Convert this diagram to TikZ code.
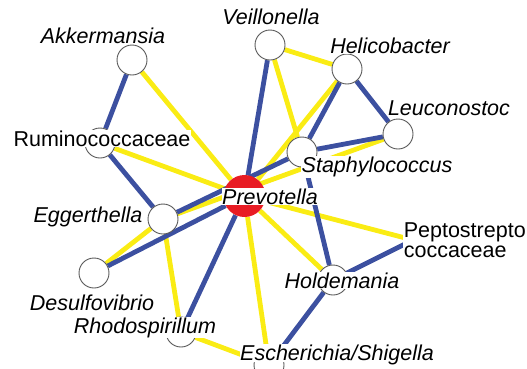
\documentclass[tikz,border=0pt]{standalone}
\usepackage{fontspec}
\setmainfont{Liberation Sans}
\pgfdeclarelayer{edges}
\pgfsetlayers{edges,main}
\definecolor{eblue}{RGB}{60,80,160}
\definecolor{eyellow}{RGB}{250,236,20}
\definecolor{nred}{RGB}{232,28,36}
\begin{document}
\begin{tikzpicture}[x=1pt,y=-1pt,
  bub/.style={circle,draw=black!65,line width=0.9pt,fill=white,minimum size=30pt,inner sep=0pt},
  hub/.style={circle,fill=nred,minimum size=42pt,inner sep=0pt},
  lab/.style={fill=white,inner sep=0.6pt,anchor=base,font=\fontsize{21.5}{19.5}\selectfont\itshape},
  labup/.style={lab,font=\fontsize{21.5}{19.5}\selectfont},
  posedge/.style={line width=4.8pt,draw=eyellow},
  negedge/.style={line width=4.8pt,draw=eblue}]
\useasboundingbox (0,0) rectangle (527,368);
% nodes
\node[bub] (akk) at (132,60) {};
\node[bub] (vei) at (270,45) {};
\node[bub] (hel) at (347,69) {};
\node[bub] (leu) at (398,134) {};
\node[bub] (sta) at (302,152) {};
\node[bub] (rum) at (100,143) {};
\node[bub] (egg) at (163,219) {};
\node[bub] (des) at (94,273) {};
\node[bub] (rho) at (181,332) {};
\node[bub] (esc) at (269,365) {};
\node[bub] (hol) at (333,280) {};
\node[hub] (pre) at (244.5,196) {};
\coordinate (pep) at (413,240);
% edges
\begin{pgfonlayer}{edges}
\draw[posedge] (akk) -- (pre);
\draw[posedge] (rum) -- (pre);
\draw[posedge] (vei) -- (hel);
\draw[posedge] (vei) -- (sta);
\draw[posedge] (hel) -- (pre);
\draw[posedge] (egg) -- (leu);
\draw[posedge] (des) -- (egg);
\draw[posedge] (egg) -- (rho);
\draw[posedge] (rho) -- (esc);
\draw[posedge] (pre) -- (esc);
\draw[posedge] (pre) -- (hol);
\draw[posedge] (pre) -- (pep);
\draw[negedge] (akk) -- (rum);
\draw[negedge] (rum) -- (egg);
\draw[negedge] (vei) -- (pre);
\draw[negedge] (hel) -- (sta);
\draw[negedge] (hel) -- (leu);
\draw[negedge] (leu) -- (sta);
\draw[negedge] (egg) -- (sta);
\draw[negedge] (sta) -- (hol);
\draw[negedge] (des) -- (pre);
\draw[negedge] (rho) -- (pre);
\draw[negedge] (hol) -- (pep);
\draw[negedge] (hol) -- (esc);
\end{pgfonlayer}
% labels
\node[lab] (lakk) at (103,43) {Akkermansia};
\node[lab] (lvei) at (271,24) {Veillonella};
\node[lab] (lhel) at (390,53) {Helicobacter};
\node[lab] (lleu) at (449,115) {Leuconostoc};
\node[lab] (lsta) at (377,172.5) {Staphylococcus};
\node[labup] (lrum) at (102,146.5) {Ruminococcaceae};
\node[lab] (lpre) at (270,204) {Prevotella};
\node[lab] (legg) at (88,222) {Eggerthella};
\node[lab] (ldes) at (92,310) {Desulfovibrio};
\node[lab] (lrho) at (145,333) {Rhodospirillum};
\node[lab,text depth=1pt] (lesc) at (337,360) {Escherichia/Shigella};
\node[lab] (lhol) at (342,288) {Holdemania};
\node[labup,anchor=west,align=left] (lpep) at (403,240.4) {Peptostrepto\\coccaceae};
\end{tikzpicture}
\end{document}
